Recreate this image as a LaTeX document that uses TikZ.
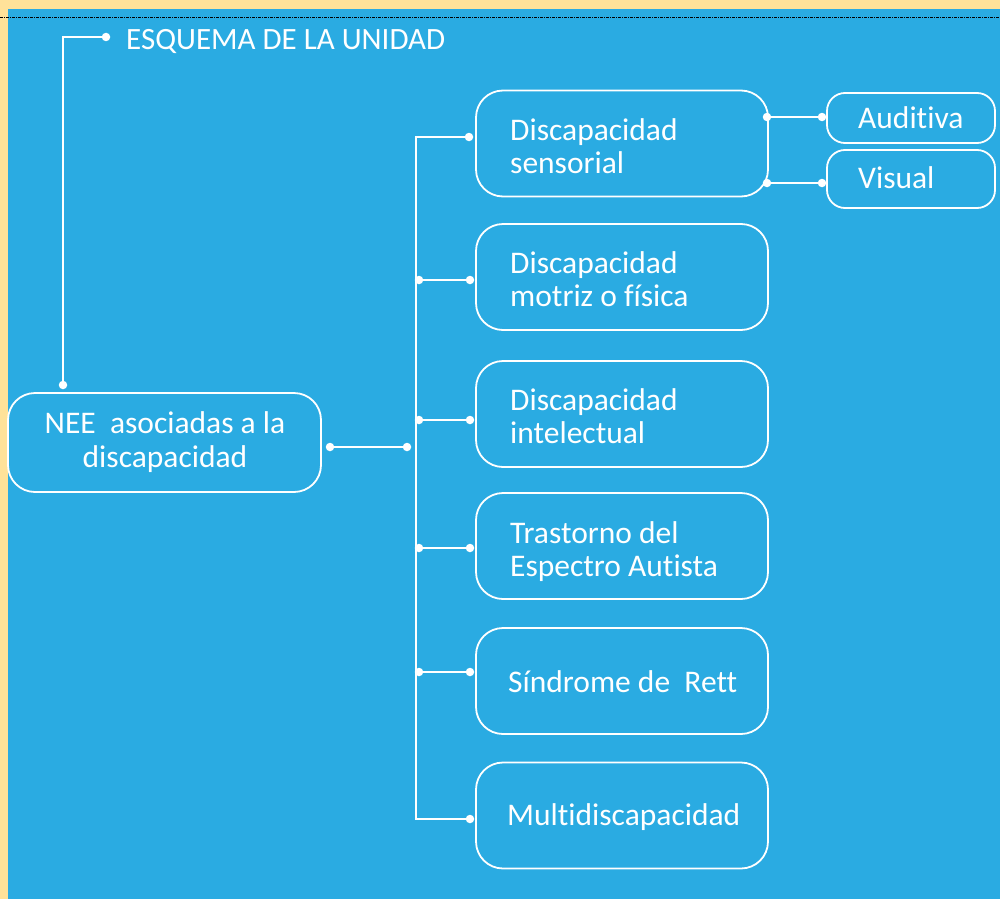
\documentclass[tikz,border=0pt]{standalone}
\usepackage{fontspec}
\setmainfont{Carlito}[RawFeature={-liga;-clig;-calt;-dlig}]
\definecolor{bgblue}{RGB}{42,171,226}
\definecolor{frameyellow}{RGB}{255,226,153}
\newcommand{\twolines}[2]{\vtop{\baselineskip=33pt\relax\hbox{#1}\hbox{#2}}}
\newcommand{\twocentered}[2]{\vtop{\baselineskip=34pt\relax\halign{\hfil##\hfil\cr #1\cr #2\cr}}}
\begin{document}
\begin{tikzpicture}[x=1pt,y=-1pt,
  box/.style={draw=white, line width=1.8pt, rounded corners=27pt, inner sep=0pt},
  bigbox/.style={box, minimum width=292pt, minimum height=106pt},
  smallbox/.style={box, rounded corners=18pt, minimum width=168pt},
  txt/.style={text=white, font=\fontsize{31.5}{33}\selectfont, inner sep=0pt},
  conn/.style={draw=white, line width=2.3pt},
  dot/.style={circle, fill=white, inner sep=0pt, minimum size=8.5pt}]
% background
\fill[frameyellow] (0,0) rectangle (1000,899);
\fill[bgblue] (8,9) rectangle (1000,899);
\useasboundingbox (0,0) rectangle (1000,899);
\draw[black, line width=0.8pt, dash pattern=on 3pt off 1pt on 1pt off 1pt] (0,17) -- (1000,17);

% boxes
\node[box, minimum width=313pt, minimum height=99pt] (nee) at (164.5,442.5) {};
\node[bigbox] (b1) at (622,143.5) {};
\node[bigbox] (b2) at (622,277) {};
\node[bigbox] (b3) at (622,414) {};
\node[bigbox] (b4) at (622,546) {};
\node[bigbox] (b5) at (622,681) {};
\node[bigbox] (b6) at (622,815.5) {};
\node[smallbox, minimum height=50pt] (aud) at (911,118) {};
\node[smallbox, minimum height=58pt] (vis) at (911,179) {};

% texts
\node[txt, anchor=base west, font=\fontsize{31}{33}\selectfont] (tesq) at (126,49) {ESQUEMA DE LA UNIDAD};
\node[txt, anchor=base] (tnee) at (165,433) {\twocentered{NEE\ \ asociadas a la}{discapacidad}};
\node[txt, anchor=base west] (t1) at (510,140) {\twolines{Discapacidad}{sensorial}};
\node[txt, anchor=base west] (t2) at (510,273) {\twolines{Discapacidad}{motriz o física}};
\node[txt, anchor=base west] (t3) at (510,410) {\twolines{Discapacidad}{intelectual}};
\node[txt, anchor=base west] (t4) at (510,543) {\twolines{Trastorno del}{Espectro Autista}};
\node[txt, anchor=base west] (t5) at (508,692) {Síndrome de\ \ Rett};
\node[txt, anchor=base west] (t6) at (507,825) {Multidiscapacidad};
\node[txt, anchor=base west] (taud) at (858,128) {Auditiva};
\node[txt, anchor=base west] (tvis) at (858,188) {Visual};

% dots
\node[dot] (e1) at (63,385) {};
\node[dot] (e2) at (106,37) {};
\node[dot] (n1) at (330,447) {};
\node[dot] (n2) at (407,447) {};
\node[dot] (r1) at (469,137) {};
\node[dot] (l2) at (419,280) {};
\node[dot] (r2) at (470,280) {};
\node[dot] (l3) at (419,420) {};
\node[dot] (r3) at (470,420) {};
\node[dot] (l4) at (419,548) {};
\node[dot] (r4) at (470,548) {};
\node[dot] (l5) at (419,672) {};
\node[dot] (r5) at (470,672) {};
\node[dot] (r6) at (470,819) {};
\node[dot] (s1) at (767,117) {};
\node[dot] (a1) at (822,117) {};
\node[dot] (s2) at (767,183) {};
\node[dot] (v1) at (822,183) {};
\coordinate (bustop) at (416,137);
\coordinate (busbot) at (416,819);

% connectors
\draw[conn] (e1.center) |- (e2.center);
\draw[conn] (n1.center) -- (n2.center);
\draw[conn] (r1.center) -- (bustop) -- (busbot) -- (r6.center);
\draw[conn] (l2.center) -- (r2.center);
\draw[conn] (l3.center) -- (r3.center);
\draw[conn] (l4.center) -- (r4.center);
\draw[conn] (l5.center) -- (r5.center);
\draw[conn] (s1.center) -- (a1.center);
\draw[conn] (s2.center) -- (v1.center);
\end{tikzpicture}
\end{document}
